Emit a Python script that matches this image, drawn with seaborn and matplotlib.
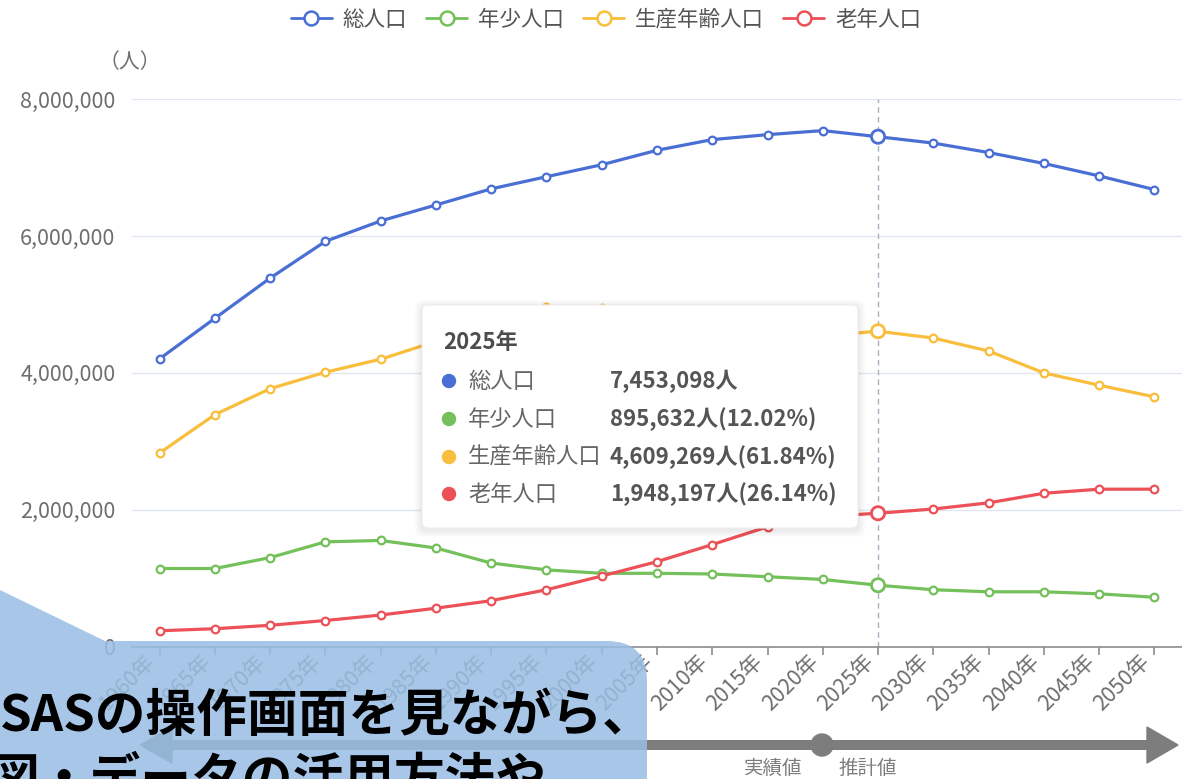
import matplotlib
matplotlib.use('Agg')
import matplotlib.pyplot as plt
import seaborn as sns
import pandas as pd
from matplotlib.lines import Line2D
from matplotlib.patches import FancyBboxPatch, PathPatch, Circle, Polygon
from matplotlib.path import Path

# data (2025 values from the tooltip)
years = [1960, 1965, 1970, 1975, 1980, 1985, 1990, 1995, 2000, 2005,
         2010, 2015, 2020, 2025, 2030, 2035, 2040, 2045, 2050]
total = [4206313, 4798653, 5386163, 5923569, 6221638, 6455172, 6690603, 6868336, 7043300, 7254704,
         7410719, 7483128, 7542415, 7453098, 7360000, 7222000, 7062000, 6880000, 6680000]
young = [1140000, 1140000, 1300000, 1530000, 1550000, 1440000, 1220000, 1120000, 1070000, 1070000,
         1060000, 1020000, 980000, 895632, 830000, 800000, 800000, 770000, 720000]
working = [2830000, 3390000, 3770000, 4010000, 4200000, 4460000, 4800000, 4960000, 4950000, 4900000,
           4780000, 4620000, 4540000, 4609269, 4510000, 4320000, 4000000, 3820000, 3650000]
elderly = [230000, 260000, 310000, 380000, 460000, 560000, 670000, 830000, 1030000, 1240000,
           1490000, 1750000, 1900000, 1948197, 2010000, 2100000, 2240000, 2300000, 2300000]

names = ['総人口', '年少人口', '生産年齢人口', '老年人口']
colors = ['#4A6FD4', '#74C05A', '#F8BE3C', '#EC5157']
yticks = [0, 2000000, 4000000, 6000000, 8000000]
hover_year = 2025

sns.set_theme(style='white')
plt.rcParams['font.family'] = ['Noto Sans CJK JP', 'DejaVu Sans']

wide = pd.DataFrame({'year': years, names[0]: total, names[1]: young,
                     names[2]: working, names[3]: elderly})
df = wide.melt(id_vars='year', var_name='series', value_name='value')
pal = dict(zip(names, colors))

W, H = 1182, 779
fig = plt.figure(figsize=(W / 100, H / 100), dpi=100)
ax = fig.add_axes([132 / W, 1 - 646.5 / H, 1 - 132 / W, (646.5 - 99.3) / H])

ax.axvline(hover_year, color='#A9AFBF', lw=1, ls=(0, (4, 3)), zorder=1)
sns.lineplot(data=df, x='year', y='value', hue='series', palette=pal, marker='o',
             markersize=5.5, linewidth=2.3, ax=ax, legend=False, zorder=3)
for line in ax.lines[1:]:
    line.set_markerfacecolor('white')
    line.set_markeredgecolor(line.get_color())
    line.set_markeredgewidth(1.6)

hl = df[df['year'] == hover_year]
sns.scatterplot(data=hl, x='year', y='value', hue='series', palette=pal, s=90,
                linewidth=2, ax=ax, legend=False, zorder=4)
pts = ax.collections[-1]
pts.set_edgecolors(pts.get_facecolors())
pts.set_facecolors('white')

ax.set_xlim(1957.5, 2052.5)
ax.set_ylim(0, 8000000)
ax.set_xticks(years)
ax.set_xticklabels([f'{y}年' for y in years], rotation=45, ha='right', va='top')
ax.set_yticks(yticks)
ax.set_yticklabels([f'{v:,}' for v in yticks])
ax.set_xlabel('')
ax.set_ylabel('')
ax.yaxis.grid(True, color='#E0E6F1', lw=1)
ax.xaxis.grid(False)
for s in ['top', 'right', 'left']:
    ax.spines[s].set_visible(False)
ax.spines['bottom'].set_color('#8C8C8C')
ax.spines['bottom'].set_linewidth(1.2)
ax.tick_params(axis='x', length=6, width=1.2, color='#8C8C8C', labelsize=15.5,
               labelcolor='#6E6E6E', pad=-3, bottom=True)
ax.tick_params(axis='y', length=0, labelsize=15.5, labelcolor='#6E6E6E', pad=12)

handles = [Line2D([], [], color=c, lw=2, marker='o', markersize=10,
                  markerfacecolor='white', markeredgewidth=1.8) for c in colors]
fig.legend(handles, names, loc='center', bbox_to_anchor=(606 / W, 1 - 20 / H), ncol=4,
           frameon=False, fontsize=15.5, handlelength=1.9, handletextpad=0.5,
           columnspacing=0.9, labelcolor='#555555')

# overlay layer in pixel coordinates
ov = fig.add_axes([0, 0, 1, 1], zorder=5)
ov.set_xlim(0, W)
ov.set_ylim(H, 0)
ov.axis('off')

ov.text(130, 62, '（人）', fontsize=15, color='#6E6E6E', ha='center', va='center')

# tooltip
for i in range(1, 8):
    ov.add_patch(FancyBboxPatch((422 - i, 305 - i + 2), 436 + 2 * i, 223 + 2 * i,
                                boxstyle='round,pad=0,rounding_size=8',
                                fc='black', ec='none', alpha=0.012))
ov.add_patch(FancyBboxPatch((422, 305), 436, 223, boxstyle='round,pad=0,rounding_size=6',
                            fc='white', ec='#EEEEEE', lw=0.8))
ov.text(443, 342, f'{hover_year}年', fontsize=16, fontweight='bold', color='#4D4D4D',
        va='center')
i25 = years.index(hover_year)
vals = [total[i25], young[i25], working[i25], elderly[i25]]
row_y = [381, 419, 457, 494]
for k in range(4):
    ov.add_patch(Circle((449, row_y[k]), 6.5, color=colors[k]))
    ov.text(468, row_y[k], names[k], fontsize=16, color='#666666', va='center')
    txt = f'{vals[k]:,}人'
    if k > 0:
        txt += f'({vals[k] / vals[0] * 100:.2f}%)'
    ov.text(610, row_y[k], txt, fontsize=16, fontweight='bold', color='#555555',
            va='center')

# bottom arrow: 実績値 / 推計値
ov.plot([160, 1150], [745, 745], color='#7D7D7D', lw=7.2, solid_capstyle='butt', zorder=2)
ov.add_patch(Polygon([(1147, 727), (1178, 745), (1147, 763)], closed=True, color='#7D7D7D'))
ov.add_patch(Polygon([(172, 727), (140, 745), (172, 763)], closed=True, color='#7D7D7D'))
ov.add_patch(Circle((822, 745), 11, color='#7D7D7D'))
ov.text(773, 768, '実績値', fontsize=14, color='#7D7D7D', ha='center', va='center')
ov.text(868, 768, '推計値', fontsize=14, color='#7D7D7D', ha='center', va='center')

# blue banner on the lower left
verts = [(0, 590), (105, 641), (607, 641), (647, 641), (647, 681), (647, 800), (0, 800), (0, 590)]
codes = [Path.MOVETO, Path.LINETO, Path.LINETO, Path.CURVE3, Path.CURVE3,
         Path.LINETO, Path.LINETO, Path.CLOSEPOLY]
ov.add_patch(PathPatch(Path(verts, codes), fc='#99BEE4', ec='none', alpha=0.85, zorder=10))
ov.text(0, 716, 'SASの操作画面を見ながら、', fontsize=36.5, fontweight='bold', color='black',
        ha='left', va='center', zorder=11)
ov.text(-12, 754, '図・データの活用方法や', fontsize=36.5, fontweight='bold', color='black',
        ha='left', va='top', zorder=11)

fig.savefig('out.png', dpi=100)
